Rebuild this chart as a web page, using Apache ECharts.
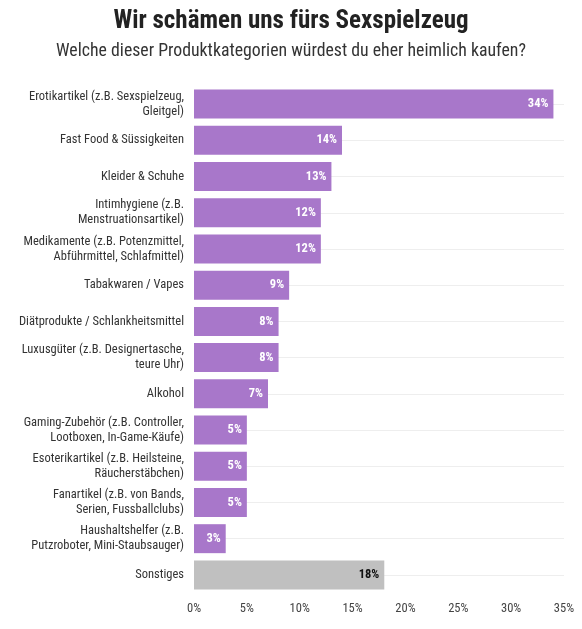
<!DOCTYPE html>
<html><head><meta charset="utf-8">
<script src="https://cdn.jsdelivr.net/npm/echarts@6/dist/echarts.min.js"></script>
<style>html,body{margin:0;padding:0;background:#fff}#c{width:582px;height:629px}</style>
</head><body><div id="c"></div>
<script>
var categories = [
  "Erotikartikel (z.B. Sexspielzeug,\nGleitgel)",
  "Fast Food & Süssigkeiten",
  "Kleider & Schuhe",
  "Intimhygiene (z.B.\nMenstruationsartikel)",
  "Medikamente (z.B. Potenzmittel,\nAbführmittel, Schlafmittel)",
  "Tabakwaren / Vapes",
  "Diätprodukte / Schlankheitsmittel",
  "Luxusgüter (z.B. Designertasche,\nteure Uhr)",
  "Alkohol",
  "Gaming-Zubehör (z.B. Controller,\nLootboxen, In-Game-Käufe)",
  "Esoterikartikel (z.B. Heilsteine,\nRäucherstäbchen)",
  "Fanartikel (z.B. von Bands,\nSerien, Fussballclubs)",
  "Haushaltshelfer (z.B.\nPutzroboter, Mini-Staubsauger)",
  "Sonstiges"
];
var values = [34, 14, 13, 12, 12, 9, 8, 8, 7, 5, 5, 5, 3, 18];
var highlightIndex = 13; // "Sonstiges" drawn in grey
var title = "Wir schämen uns fürs Sexspielzeug";
var subtitle = "Welche dieser Produktkategorien würdest du eher heimlich kaufen?";

var FONT = "'Roboto Condensed','Liberation Sans Narrow','DejaVu Sans Condensed',Roboto,sans-serif";
var chart = echarts.init(document.getElementById('c'), null, {renderer:'canvas'});
chart.setOption({
  animation:false,
  backgroundColor:'#fff',
  title:[{
    text:title, left:'center', top:4,
    textStyle:{fontFamily:FONT, fontSize:25, fontWeight:'bold', color:'#222'}
  },{
    text:subtitle, left:'center', top:38,
    textStyle:{fontFamily:FONT, fontSize:17.8, fontWeight:'normal', color:'#333'}
  }],
  grid:{left:194, right:18, top:86, bottom:36, containLabel:false},
  xAxis:{
    type:'value', min:0, max:35, interval:5,
    axisLabel:{formatter:'{value}%', fontFamily:FONT, fontSize:12.5, color:'#444', margin:9},
    splitLine:{show:false}, axisLine:{show:false}, axisTick:{show:false}
  },
  yAxis:{
    type:'category', data:categories, inverse:true,
    axisLabel:{fontFamily:FONT, fontSize:12.5, color:'#333', lineHeight:15, margin:10},
    axisLine:{show:false}, axisTick:{show:false},
    splitLine:{show:false}
  },
  series:[{
    type:'bar', barCategoryGap:'20%',
    data:values.map(function(v,i){
      return {value:v, itemStyle:{color: i===highlightIndex ? '#c0c0c0' : '#a877ca'},
        label:{color: i===highlightIndex ? '#111' : '#fff'}};
    }),
    label:{show:true, position:'insideRight', formatter:'{c}%', fontFamily:FONT, fontWeight:'bold', fontSize:12.5, distance:5},
    markLine:{
      silent:true, symbol:'none', label:{show:false},
      lineStyle:{color:'#eeeeee', type:'solid', width:1},
      data:categories.map(function(c){return [{coord:[0,c]},{coord:[35,c]}];}),
      z:0
    },
    z:2
  }]
});
</script></body></html>
